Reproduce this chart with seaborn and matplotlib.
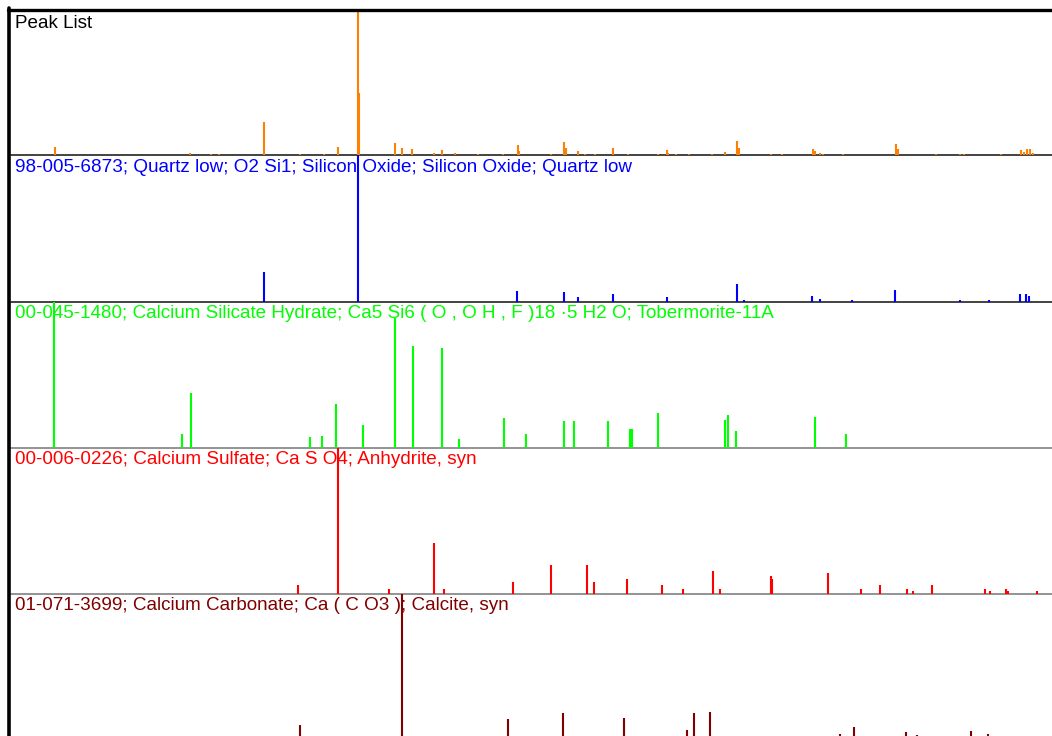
import matplotlib
matplotlib.use("Agg")
import matplotlib.pyplot as plt
import seaborn as sns
from matplotlib.lines import Line2D

# peak positions (2theta, deg) and relative intensities (%) for each pattern
peak_list_pos = [7.91, 16.28, 17.58, 18.06, 20.84, 23.06, 24.55, 25.43, 26.64, 26.73,
                 28.94, 29.40, 29.99, 31.35, 31.87, 32.65, 34.10, 35.62, 36.56, 36.62,
                 38.63, 39.43, 39.55, 40.27, 40.75, 41.36, 42.43, 43.40, 45.23, 45.77,
                 45.88, 46.38, 47.14, 48.61, 49.38, 50.12, 50.24, 52.26, 52.94, 54.85,
                 54.96, 55.25, 55.44, 56.72, 59.95, 60.08, 62.45, 63.95, 64.18, 66.51,
                 67.71, 67.90, 68.08, 68.27, 68.46]
peak_list_int = [5.3, 1.4, 0.7, 1.0, 22.9, 0.5, 0.5, 5.3, 100, 42.8,
                 8.6, 4.9, 3.9, 1.4, 3.5, 1.4, 0.7, 0.5, 6.7, 2.8,
                 0.5, 9.3, 4.9, 2.8, 0.5, 0.5, 4.9, 0.5, 0.7, 3.5,
                 1.4, 0.5, 0.5, 0.5, 2.1, 10.0, 4.9, 0.5, 0.5, 4.2,
                 2.8, 1.4, 0.7, 0.5, 7.4, 4.2, 0.5, 0.7, 0.7, 0.5,
                 3.5, 2.1, 4.2, 4.2, 1.4]

quartz_pos = [20.84, 26.64, 36.50, 39.43, 40.27, 42.43, 45.77, 50.14, 50.57,
              54.78, 55.27, 57.24, 59.91, 63.95, 65.71, 67.64, 68.00, 68.21]
quartz_int = [20.4, 100, 7.2, 6.5, 3.0, 5.3, 3.0, 11.8, 0.7,
              3.5, 1.6, 0.7, 7.6, 1.2, 0.7, 4.9, 5.3, 3.5]

tobermorite_pos = [7.85, 15.75, 16.32, 23.69, 24.44, 25.30, 26.97, 28.96, 30.07,
                   31.87, 32.90, 35.71, 37.05, 39.44, 40.04, 42.16, 43.48, 43.65,
                   45.25, 49.41, 49.58, 50.08, 54.99, 56.89]
tobermorite_int = [100, 9.1, 37.5, 7.3, 7.7, 29.8, 15.5, 88.7, 69.8,
                   68.0, 5.9, 20.0, 9.1, 18.2, 18.2, 18.2, 12.7, 12.7,
                   23.9, 18.9, 22.0, 11.1, 20.7, 9.1]

anhydrite_pos = [22.98, 25.43, 28.61, 31.35, 31.98, 36.29, 38.61, 40.83, 41.31,
                 43.31, 45.48, 46.82, 48.63, 49.11, 52.22, 52.31, 55.75, 57.79,
                 58.96, 60.66, 61.06, 62.24, 65.48, 65.77, 66.80, 66.93, 68.69]
anhydrite_int = [6.2, 100, 3.4, 34.7, 3.4, 8.2, 19.9, 19.9, 8.2,
                 10.0, 6.2, 3.4, 16.0, 3.4, 12.1, 10.0, 14.2, 3.4,
                 6.2, 3.4, 1.8, 6.2, 3.4, 1.8, 3.4, 1.8, 1.8]

calcite_pos = [23.08, 29.40, 35.98, 39.38, 43.12, 47.05, 47.48, 48.49,
               56.49, 57.39, 60.63, 61.30, 64.60, 65.65]
calcite_int = [10.6, 100, 14.5, 19.0, 15.4, 7.2, 19.0, 19.7,
               4.2, 9.2, 6.0, 3.8, 6.7, 4.2]

labels = [
    "Peak List",
    "98-005-6873; Quartz low; O2 Si1; Silicon Oxide; Silicon Oxide; Quartz low",
    "00-045-1480; Calcium Silicate Hydrate; Ca5 Si6 ( O , O H , F )18 \u00b75 H2 O; Tobermorite-11A",
    "00-006-0226; Calcium Sulfate; Ca S O4; Anhydrite, syn",
    "01-071-3699; Calcium Carbonate; Ca ( C O3 ); Calcite, syn",
]
line_colors = ["#FF8000", "#0000FF", "#00FF00", "#FF0000", "#800000"]
text_colors = ["black", "#0000FF", "#00FF00", "#FF0000", "#800000"]
base_colors = ["#222222", "#222222", "#808080", "#808080", "#808080"]

patterns = [(peak_list_pos, peak_list_int), (quartz_pos, quartz_int),
            (tobermorite_pos, tobermorite_int), (anhydrite_pos, anhydrite_int),
            (calcite_pos, calcite_int)]

sns.set_style("white")
plt.rcParams['font.family'] = ['Liberation Sans', 'DejaVu Sans']

W, H = 1052, 736
fig = plt.figure(figsize=(W / 100, H / 100), dpi=100)

# panel edges in pixels from the top
edges = [11, 155, 301.5, 447.5, 594, 740.5]
x0 = 11

for i, (pos, inten) in enumerate(patterns):
    top, bot = edges[i], edges[i + 1]
    ax = fig.add_axes([x0 / W, 1 - bot / H, (W - x0) / W, (bot - top) / H])
    ax.vlines(pos, 0, inten, color=line_colors[i], lw=1.5, zorder=3)
    ax.axhline(0, color=base_colors[i], lw=1.2, clip_on=False, zorder=2)
    ax.set_xlim(5.18, 69.64)
    ax.set_ylim(0, 100)
    ax.text(4 / (W - x0), 1 - 3.5 / (bot - top), labels[i], transform=ax.transAxes,
            ha="left", va="top", fontsize=13.6, color=text_colors[i], zorder=1)
    sns.despine(ax=ax, left=True, bottom=True)
    ax.set_xticks([])
    ax.set_yticks([])
    ax.patch.set_alpha(0)

# thick frame on the left and top
fig.add_artist(Line2D([9 / W, 9 / W], [0, 1 - 8 / H], color="black", lw=2.6,
                      transform=fig.transFigure))
fig.add_artist(Line2D([7.7 / W, 1], [1 - 9.5 / H, 1 - 9.5 / H], color="black", lw=2.4,
                      transform=fig.transFigure))

fig.savefig("out.png", dpi=100, facecolor="white")
